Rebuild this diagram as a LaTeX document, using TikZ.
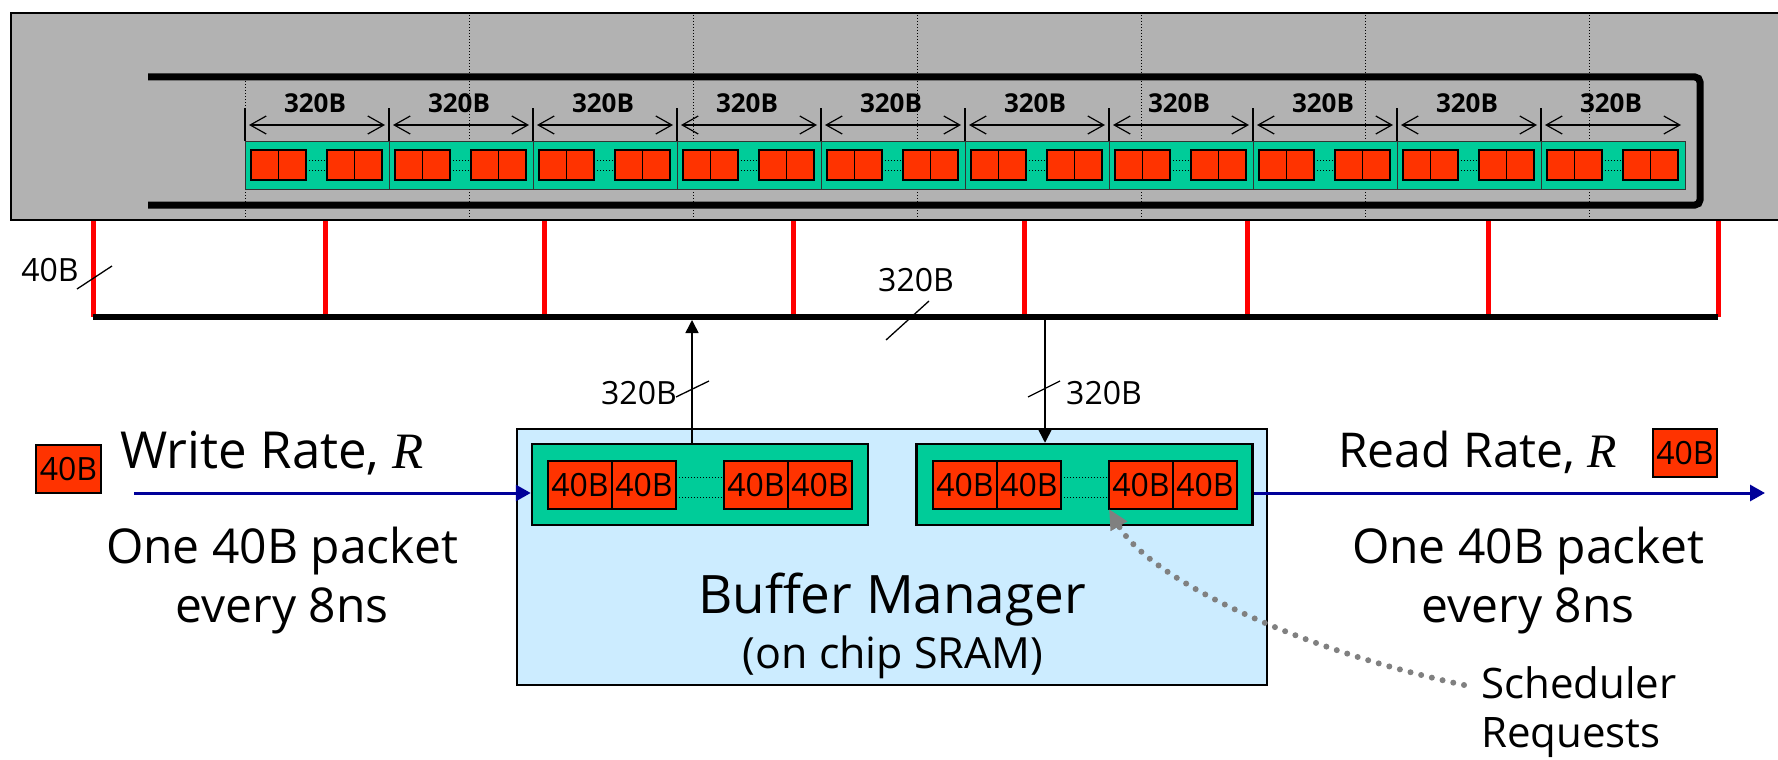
\documentclass[tikz,border=0pt]{standalone}
\usepackage{fontspec}
\setmainfont{Open Sans}
\newfontfamily\ratefont{Liberation Serif}
\usetikzlibrary{arrows.meta,positioning}
\definecolor{panelgray}{HTML}{B2B2B2}
\definecolor{segreen}{HTML}{00CC99}
\definecolor{pktred}{HTML}{FF3300}
\definecolor{bmblue}{HTML}{CCECFF}
\definecolor{flownavy}{HTML}{000099}
\definecolor{schedgray}{HTML}{808080}
\tikzset{
      panelline/.style={draw=black, line width=1.5pt},
      dramrow/.style={draw=black, line width=7pt, rounded corners=5pt},
      griddots/.style={draw=black, line width=1pt, dotted},
      segbox/.style={draw=black!80, line width=1pt, fill=segreen,
        minimum width=144pt, minimum height=48pt, inner sep=0pt, outer sep=0pt},
      pktcell/.style={draw=black, line width=1.5pt, fill=pktred},
      gapdots/.style={draw=black, line width=1pt, dotted},
      dimtick/.style={draw=black, line width=1.2pt},
      dimarrow/.style={draw=black, line width=1.2pt,
        {Straight Barb[length=16pt,width=18pt]}-{Straight Barb[length=16pt,width=18pt]}},
      dimlabel/.style={font=\fontsize{26}{30}\selectfont\bfseries, inner sep=0pt},
      tapline/.style={draw=red, line width=5pt},
      busline/.style={draw=black, line width=6pt},
      wordarrow/.style={draw=black, line width=1.5pt, -{Triangle[length=13pt,width=13pt]}},
      slash/.style={draw=black, line width=1.3pt},
      widthlabel/.style={font=\fontsize{32}{36}\selectfont, inner sep=0pt},
      bmbox/.style={draw=black, line width=2pt, fill=bmblue,
        minimum width=750pt, minimum height=256pt},
      bufbox/.style={draw=black, line width=2.5pt, fill=segreen,
        minimum width=336pt, minimum height=81pt},
      pktbox/.style={draw=black, line width=1.5pt, fill=pktred,
        minimum width=64pt, minimum height=48pt, inner sep=0pt, outer sep=0pt,
        font=\fontsize{32}{36}\selectfont},
      flowarrow/.style={draw=flownavy, line width=3pt, -{Triangle[length=15pt,width=16pt]}},
      ratelabel/.style={font=\fontsize{48}{59}\selectfont, inner sep=0pt},
      notelabel/.style={font=\fontsize{48}{59}\selectfont, inner sep=0pt, align=center},
      schedarrow/.style={draw=schedgray, line width=6pt, line cap=round,
        dash pattern=on 0pt off 11pt, -{Triangle[length=20pt,width=18pt]}}
    }

\begin{document}
\begin{tikzpicture}[x=1pt,y=-1pt]
    \useasboundingbox (0,0) rectangle (1778,760);
    % DRAM panel
    \fill[panelgray] (11,13) rectangle (1778,220);
    \foreach \x in {469,693,917,1141,1365,1589}
      \draw[griddots] (\x,15) -- (\x,219);
    \draw[griddots] (245,81) -- (245,219);
    \draw[panelline] (1778,13) -- (11,13) -- (11,220) -- (1778,220);
    \draw[dramrow] (148,77) -- (1700,77) -- (1700,205) -- (148,205);
    \foreach \k in {0,...,9} {
      \pgfmathsetmacro{\s}{245+144*\k}
      \node[segbox, anchor=north west] (seg\k) at (\s,141) {};
      \foreach \o in {6,33.5,82,109.5}
        \draw[pktcell] (\s+\o,150) rectangle +(27.5,30);
      \draw[gapdots] (\s+61,160) -- (\s+82,160);
      \draw[gapdots] (\s+61,170) -- (\s+82,170);
      \draw[dimtick] (seg\k.north west) -- ++(0,-33);
      \draw[dimarrow] (\s+4,125) -- (\s+140,125);
      \node[dimlabel, anchor=base] (dim\k) at (\s+70,112) {320B};
    }
    % taps and bus
    \foreach \x in {93,325,544,793,1024,1247,1488,1718}
      \draw[tapline] (\x,221) -- (\x,317);
    \coordinate (busL) at (93,317);
    \coordinate (busR) at (1718,317);
    \draw[busline] (busL) -- (busR);
    \node[widthlabel] (tapw) at (50,270) {40B};
    \draw[slash] (77,289) -- (112,266);
    \node[widthlabel] (busw) at (916,280) {320B};
    \draw[slash] (886,340) -- (929,301);
    % buffer manager
    \node[bmbox] (bm) at (892,557) {};
    \node[bufbox] (bufL) at (700,484.5) {};
    \node[bufbox] (bufR) at (1084.5,484.5) {};
    \node[pktbox] (a1) at (580,485) {40B};
    \node[pktbox, right=0pt of a1] (a2) {40B};
    \node[pktbox, right=48pt of a2] (a3) {40B};
    \node[pktbox, right=0pt of a3] (a4) {40B};
    \node[pktbox] (b1) at (965,485) {40B};
    \node[pktbox, right=0pt of b1] (b2) {40B};
    \node[pktbox, right=48pt of b2] (b3) {40B};
    \node[pktbox, right=0pt of b3] (b4) {40B};
    \draw[gapdots] ([yshift=8pt]a2.east) -- ([yshift=8pt]a3.west);
    \draw[gapdots] ([yshift=-12pt]a2.east) -- ([yshift=-12pt]a3.west);
    \draw[gapdots] ([yshift=8pt]b2.east) -- ([yshift=8pt]b3.west);
    \draw[gapdots] ([yshift=-12pt]b2.east) -- ([yshift=-12pt]b3.west);
    \node[ratelabel, anchor=base] (bmtitle) at (892,613) {\fontsize{53}{60}\selectfont Buffer Manager};
    \node[ratelabel, anchor=base] (bmsub) at (893,668) {\fontsize{43}{50}\selectfont (on chip SRAM)};
    % bus transfers
    \coordinate (upbus) at (692,320);
    \coordinate (dnbus) at (1045,320);
    \draw[wordarrow] (bufL.north -| upbus) -- (upbus);
    \draw[wordarrow] (dnbus) -- (dnbus |- bufR.north);
    \node[widthlabel] (upw) at (639,393) {320B};
    \draw[slash] (676,397) -- (709,381);
    \node[widthlabel] (dnw) at (1104,393) {320B};
    \draw[slash] (1028,397) -- (1060,381);
    % write side
    \node[pktbox, minimum width=65pt] (inpkt) at (68.5,469) {40B};
    \node[ratelabel, anchor=base west, font=\fontsize{51}{59}\selectfont] (writelbl) at (120,468) {Write Rate, {\ratefont\itshape R}};
    \coordinate (win) at (134,493);
    \draw[flowarrow] (win) -- (bufL.west |- win);
    \node[notelabel, anchor=north] (writenote) at (282,527) {One 40B packet\\every 8ns};
    % read side
    \node[pktbox] (outpkt) at (1685,453) {40B};
    \node[ratelabel, anchor=base west] (readlbl) at (1338,467) {Read Rate, {\ratefont\itshape R}};
    \coordinate (rout) at (1765,493);
    \draw[flowarrow] (bufR.east |- rout) -- (rout);
    \node[notelabel, anchor=north] (readnote) at (1528,527) {One 40B packet\\every 8ns};
    % scheduler
    \node[ratelabel, align=left, anchor=north west, font=\fontsize{42}{49}\selectfont] (sched) at (1481,666) {Scheduler\\Requests};
    \draw[schedarrow] ([xshift=-17pt,yshift=-19pt]sched.north west) .. controls (1300,650) and (1150,580) .. (b3.south west);
\end{tikzpicture}
\end{document}
